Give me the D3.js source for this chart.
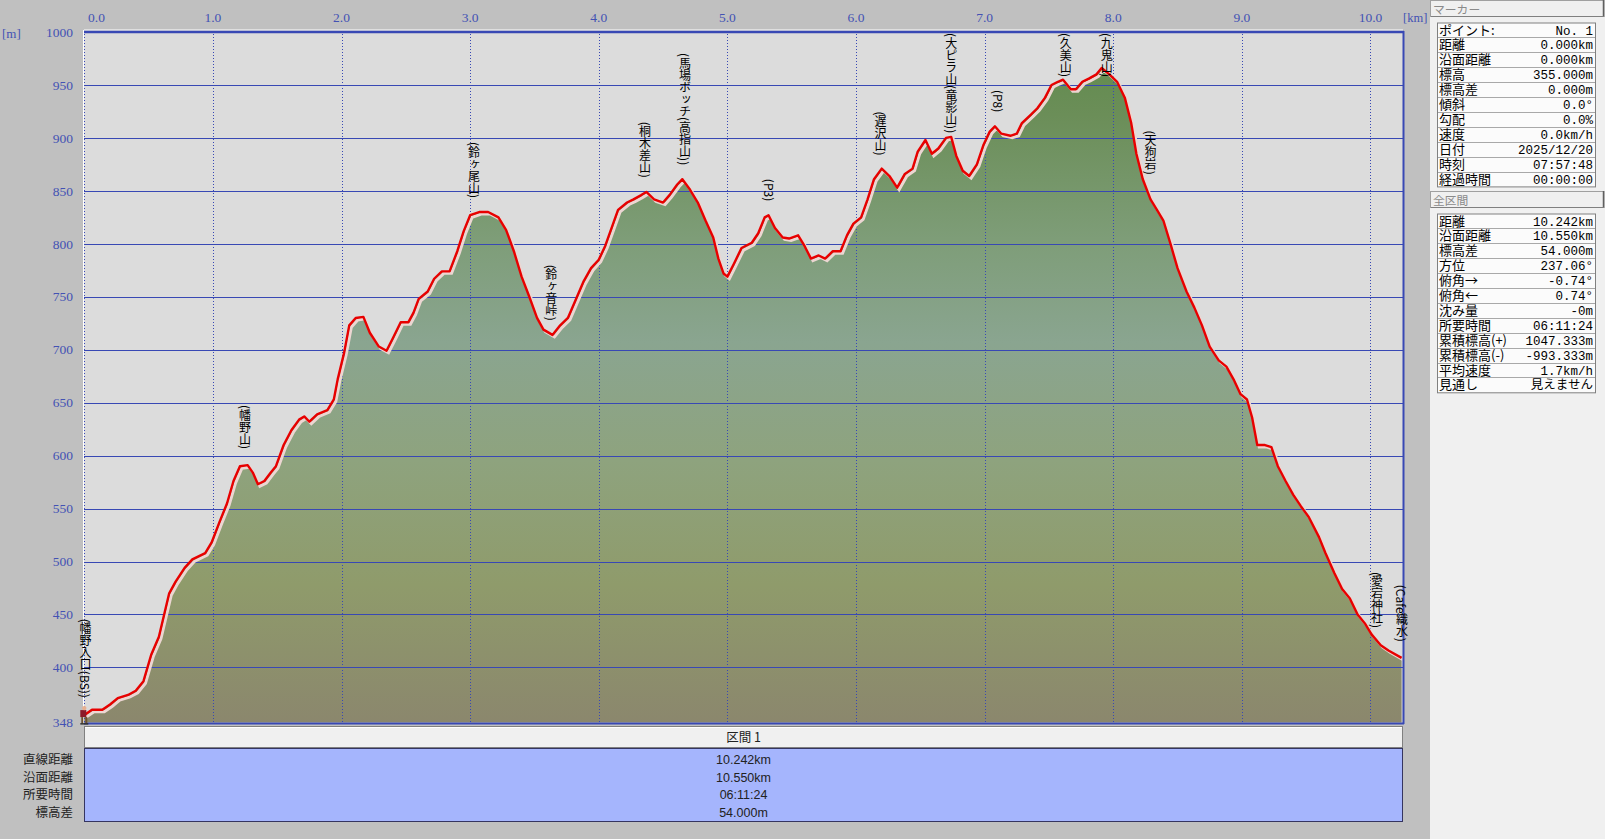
<!DOCTYPE html>
<html><head><meta charset="utf-8">
<script src="https://cdn.jsdelivr.net/npm/d3@7"></script>
<style>
html,body{margin:0;padding:0;background:#c0c0c0;overflow:hidden;}
svg{display:block;}
</style></head>
<body>
<script>
// ---------- data ----------
const distKm = [0.00,0.06,0.14,0.20,0.26,0.34,0.40,0.46,0.52,0.58,
0.66,0.71,0.78,0.84,0.94,0.99,1.05,1.11,1.16,1.21,
1.27,1.31,1.35,1.40,1.45,1.49,1.55,1.61,1.67,1.71,
1.75,1.81,1.89,1.94,1.97,2.02,2.06,2.11,2.17,2.22,
2.29,2.35,2.40,2.46,2.52,2.56,2.60,2.67,2.72,2.78,
2.84,2.90,2.95,3.00,3.07,3.14,3.22,3.28,3.34,3.40,
3.46,3.52,3.57,3.64,3.70,3.76,3.82,3.88,3.94,4.00,
4.05,4.10,4.15,4.22,4.27,4.33,4.37,4.43,4.50,4.55,
4.61,4.65,4.71,4.77,4.83,4.89,4.93,4.97,5.00,5.05,
5.11,5.19,5.24,5.29,5.32,5.37,5.43,5.48,5.55,5.60,
5.65,5.71,5.76,5.82,5.88,5.93,5.98,6.04,6.09,6.14,
6.20,6.26,6.32,6.38,6.44,6.48,6.54,6.59,6.64,6.70,
6.74,6.78,6.83,6.88,6.94,6.99,7.04,7.08,7.13,7.20,
7.25,7.29,7.36,7.41,7.47,7.52,7.57,7.61,7.67,7.71,
7.76,7.81,7.87,7.91,7.97,8.03,8.09,8.14,8.18,8.23,
8.29,8.34,8.39,8.45,8.50,8.57,8.63,8.69,8.75,8.82,
8.88,8.94,8.99,9.04,9.08,9.12,9.18,9.23,9.28,9.34,
9.40,9.46,9.52,9.60,9.65,9.72,9.78,9.84,9.90,9.96,
10.01,10.08,10.14,10.242];
const elevM = [355,360,360,365,371,374,378,387,412,429,
470,481,494,502,508,518,537,555,576,590,
591,584,573,576,584,590,610,624,634,637,
632,639,643,653,672,697,723,730,731,716,
703,699,711,726,726,735,748,755,767,774,
774,793,812,827,830,830,825,813,793,769,
750,730,719,714,723,730,747,764,777,785,
798,815,832,839,842,846,849,842,839,846,
856,861,851,839,822,806,786,772,769,781,
796,801,810,825,827,815,806,805,808,798,
786,789,786,793,793,808,819,825,842,861,
871,864,853,866,871,887,898,885,890,900,
901,883,869,864,875,893,906,911,904,902,
904,914,922,928,938,950,953,955,946,946,
953,956,960,966,960,953,938,914,885,861,
842,832,822,798,777,755,740,723,703,690,
684,671,658,653,636,610,610,608,590,576,
563,552,542,523,508,489,474,465,450,441,
431,421,416,409];

const wpNames = ["(幡野入口(BS))","(幡野山)","(鈴ヶ尾山)","(鈴ヶ音峠)","(桐木差山)","(馬場ボッチ(高指山))","(P3)","(遅沢山)","(大ピラ山(竜影山))","(P8)","(久美山)","(九鬼山)","(天狗岩)","(愛宕神社)","(Cafe織水)"];
const wpKm    = [0.01,1.25,3.03,3.63,4.36,4.67,5.33,6.19,6.74,7.11,7.63,7.95,8.29,10.05,10.245];
const wpElev  = [358,593,830,714,849,861,827,870,901,911,955,967,852,424,411];

const xTicks = [0,1,2,3,4,5,6,7,8,9,10];
const xTickLabels = ["0.0","1.0","2.0","3.0","4.0","5.0","6.0","7.0","8.0","9.0","10.0"];
const yTicks = [1000,950,900,850,800,750,700,650,600,550,500,450,400,348];

const markerLabels = ["ポイント:","距離","沿面距離","標高","標高差","傾斜","勾配","速度","日付","時刻","経過時間"];
const markerValues = ["No. 1","0.000km","0.000km","355.000m","0.000m","0.0°","0.0%","0.0km/h","2025/12/20","07:57:48","00:00:00"];
const totalLabels = ["距離","沿面距離","標高差","方位","俯角→","俯角←","沈み量","所要時間","累積標高(+)","累積標高(-)","平均速度","見通し"];
const totalValues = ["10.242km","10.550km","54.000m","237.06°","-0.74°","0.74°","-0m","06:11:24","1047.333m","-993.333m","1.7km/h","見えません"];

const sectionHeader = "区間 1";
const sectionLabels = ["直線距離","沿面距離","所要時間","標高差"];
const sectionValues = ["10.242km","10.550km","06:11:24","54.000m"];

// ---------- layout ----------
const W = 1605, H = 839;
const PL = 84, PR = 1403, PT = 31, PB = 723;
const x = d3.scaleLinear().domain([0, 10.25]).range([84.3, 1402.6]);
const y = d3.scaleLinear().domain([348, 1000]).range([722.5, 32]);
const blue = "#3848b4";
const labBlue = "#4352b4";
const jp = "'Noto Sans CJK JP','Noto Sans',sans-serif";

const svg = d3.select("body").append("svg").attr("width", W).attr("height", H);
svg.append("rect").attr("width", W).attr("height", H).attr("fill", "#c0c0c0");

// plot background
svg.append("rect").attr("x", PL).attr("y", PT).attr("width", PR-PL).attr("height", PB-PT).attr("fill", "#dcdcdc");

// gradient for terrain
const defs = svg.append("defs");
const grad = defs.append("linearGradient").attr("id","terr").attr("gradientUnits","userSpaceOnUse")
  .attr("x1",0).attr("x2",0).attr("y1",y(1000)).attr("y2",y(348));
[[0,"#5e8a4a"],[0.12,"#6b8e58"],[0.3,"#7e9d78"],[0.45,"#8aa590"],[0.62,"#8ea37e"],[0.8,"#8f9b6b"],[1,"#8b876d"]]
  .forEach(s=>grad.append("stop").attr("offset",s[0]).attr("stop-color",s[1]));

const pts = distKm.map((d,i)=>({d, e: elevM[i]}));

// terrain area
svg.append("path").datum(pts)
  .attr("d", d3.area().x(p=>x(p.d)).y0(y(348)).y1(p=>y(p.e)))
  .attr("fill","url(#terr)");

// grid horizontal
const hTicks = yTicks.filter(t=>t!==1000 && t!==348);
svg.append("g").selectAll("line").data(hTicks).join("line")
  .attr("x1",PL).attr("x2",PR).attr("y1",d=>Math.round(y(d))+0.5).attr("y2",d=>Math.round(y(d))+0.5)
  .attr("stroke",blue).attr("stroke-width",1.2);
// grid vertical dotted
svg.append("g").selectAll("line").data(xTicks).join("line")
  .attr("x1",d=>Math.round(x(d))+0.5).attr("x2",d=>Math.round(x(d))+0.5).attr("y1",PT).attr("y2",PB)
  .attr("stroke",blue).attr("stroke-width",1).attr("stroke-dasharray","1,2");

// shadow + track line
const line = d3.line().x(p=>x(p.d)).y(p=>y(p.e));
svg.append("path").datum(pts).attr("d",line).attr("fill","none")
  .attr("stroke","#ecd6d2").attr("stroke-width",3).attr("transform","translate(2,2)");
svg.append("path").datum(pts).attr("d",line).attr("fill","none")
  .attr("stroke","#e80000").attr("stroke-width",2.4).attr("stroke-linejoin","round");

// frame
svg.append("line").attr("x1",PL).attr("x2",PR).attr("y1",30).attr("y2",30).attr("stroke","#ffffff").attr("stroke-width",1);
svg.append("line").attr("x1",PL).attr("x2",PR+1).attr("y1",32).attr("y2",32).attr("stroke",blue).attr("stroke-width",2.5);
svg.append("line").attr("x1",PL).attr("x2",PR+1).attr("y1",723.5).attr("y2",723.5).attr("stroke",blue).attr("stroke-width",2);
svg.append("line").attr("x1",PR+0.5).attr("x2",PR+0.5).attr("y1",31).attr("y2",724).attr("stroke",blue).attr("stroke-width",2);
svg.append("line").attr("x1",PL-0.5).attr("x2",PL-0.5).attr("y1",30).attr("y2",724).attr("stroke","#ffffff").attr("stroke-width",1);

// y axis labels
svg.append("g").selectAll("text").data(yTicks).join("text")
  .attr("x",73).attr("y",d=>y(d)).attr("dy","0.35em").attr("text-anchor","end")
  .attr("font-family","'Liberation Serif','DejaVu Serif',serif").attr("font-size",13.5)
  .attr("fill",labBlue).text(d=>d);
svg.append("text").attr("x",2).attr("y",38).attr("font-family","'Liberation Serif',serif")
  .attr("font-size",13).attr("fill",labBlue).text("[m]");
// x axis labels (top)
svg.append("g").selectAll("text").data(xTicks).join("text")
  .attr("x",d=>d===0? 88 : x(d)).attr("y",22).attr("text-anchor",d=>d===0?"start":"middle")
  .attr("font-family","'Liberation Serif','DejaVu Serif',serif").attr("font-size",13.5)
  .attr("fill",labBlue).text((d,i)=>xTickLabels[i]);
svg.append("text").attr("x",1403).attr("y",22).attr("font-family","'Liberation Serif',serif")
  .attr("font-size",12.5).attr("fill",labBlue).text("[km]");

// waypoint labels (vertical)
const wg = svg.append("g");
wpNames.forEach((n,i)=>{
  const t = wg.append("text")
    .attr("x", x(wpKm[i])).attr("y", 0)
    .attr("font-family", jp).attr("font-size", 12)
    .style("writing-mode","vertical-rl").style("text-orientation","mixed")
    .attr("fill","#000").text(n);
  const len = t.node().getComputedTextLength();
  let bottom = y(wpElev[i]) - 14;
  let top = bottom - len;
  if (top < 33) top = 33;
  t.attr("y", top);
});

// hiker icon at start
const hk = svg.append("g").attr("transform",`translate(${x(0)},${y(355)})`);
hk.append("rect").attr("x",-4).attr("y",-5).attr("width",6).attr("height",7).attr("fill","#8b1a2a");
hk.append("circle").attr("cx",0).attr("cy",-7).attr("r",2.2).attr("fill","#e8b090");
hk.append("rect").attr("x",-3).attr("y",2).attr("width",2).attr("height",6).attr("fill","#6b5030");
hk.append("rect").attr("x",1).attr("y",2).attr("width",2).attr("height",6).attr("fill","#6b5030");
hk.append("rect").attr("x",-4).attr("y",8).attr("width",8).attr("height",1.5).attr("fill","#303030");

// bottom section table
svg.append("rect").attr("x",PL+0.5).attr("y",726.5).attr("width",PR-PL-1).attr("height",21)
  .attr("fill","#f0f0f0").attr("stroke","#808080");
svg.append("line").attr("x1",PL+1).attr("x2",PR-1).attr("y1",727.5).attr("y2",727.5).attr("stroke","#ffffff");
svg.append("text").attr("x",(PL+PR)/2).attr("y",742).attr("text-anchor","middle")
  .attr("font-family",jp).attr("font-size",12.5).attr("fill","#222").text(sectionHeader);
svg.append("rect").attr("x",PL+0.5).attr("y",748.5).attr("width",PR-PL-1).attr("height",73)
  .attr("fill","#a5b5fd").attr("stroke","#353560");
sectionLabels.forEach((l,i)=>{
  svg.append("text").attr("x",73).attr("y",764+i*17.7).attr("text-anchor","end")
    .attr("font-family",jp).attr("font-size",12.5).attr("fill","#222").text(l);
  svg.append("text").attr("x",(PL+PR)/2).attr("y",764+i*17.7).attr("text-anchor","middle")
    .attr("font-family","'Liberation Sans Narrow','Liberation Sans',sans-serif").attr("font-size",12.5).attr("fill","#222").text(sectionValues[i]);
});

// right panel
svg.append("rect").attr("x",1430).attr("y",0).attr("width",W-1430).attr("height",H).attr("fill","#f0f0f0");
function titleBar(y0, label){
  svg.append("rect").attr("x",1430.5).attr("y",y0+0.5).attr("width",173.5).attr("height",16).attr("fill","#f0f0f0")
    .attr("stroke","#a0a0a0");
  svg.append("line").attr("x1",1603.5).attr("x2",1603.5).attr("y1",y0).attr("y2",y0+17).attr("stroke","#606060").attr("stroke-width",1.5);
  svg.append("line").attr("x1",1431).attr("x2",1604).attr("y1",y0+16.5).attr("y2",y0+16.5).attr("stroke","#808080");
  svg.append("text").attr("x",1433).attr("y",y0+13.6).attr("font-family",jp).attr("font-size",11.8)
    .attr("fill","#8a8a8a").text(label);
}
function table(y0, labels, values){
  const rh = 14.9, x0 = 1437, x1 = 1595;
  const g = svg.append("g");
  g.append("rect").attr("x",x0+0.5).attr("y",y0+0.5).attr("width",x1-x0).attr("height",rh*labels.length)
    .attr("fill","#fbfbfb").attr("stroke","#808080");
  labels.forEach((l,i)=>{
    if(i>0) g.append("line").attr("x1",x0+1).attr("x2",x1).attr("y1",Math.round(y0+i*rh)+0.5).attr("y2",Math.round(y0+i*rh)+0.5)
      .attr("stroke","#a8a8a8");
    g.append("text").attr("x",x0+2).attr("y",y0+i*rh+12).attr("font-family",jp).attr("font-size",13)
      .attr("fill","#000").text(l);
    g.append("text").attr("x",x1-2).attr("y",y0+i*rh+12).attr("text-anchor","end")
      .attr("font-family","'Liberation Mono','DejaVu Sans Mono','Noto Sans CJK JP',monospace").attr("font-size",12.5)
      .attr("fill","#000").text(values[i]);
  });
}
titleBar(0, "マーカー");
table(22.5, markerLabels, markerValues);
titleBar(191, "全区間");
table(213.5, totalLabels, totalValues);
</script>
</body></html>
